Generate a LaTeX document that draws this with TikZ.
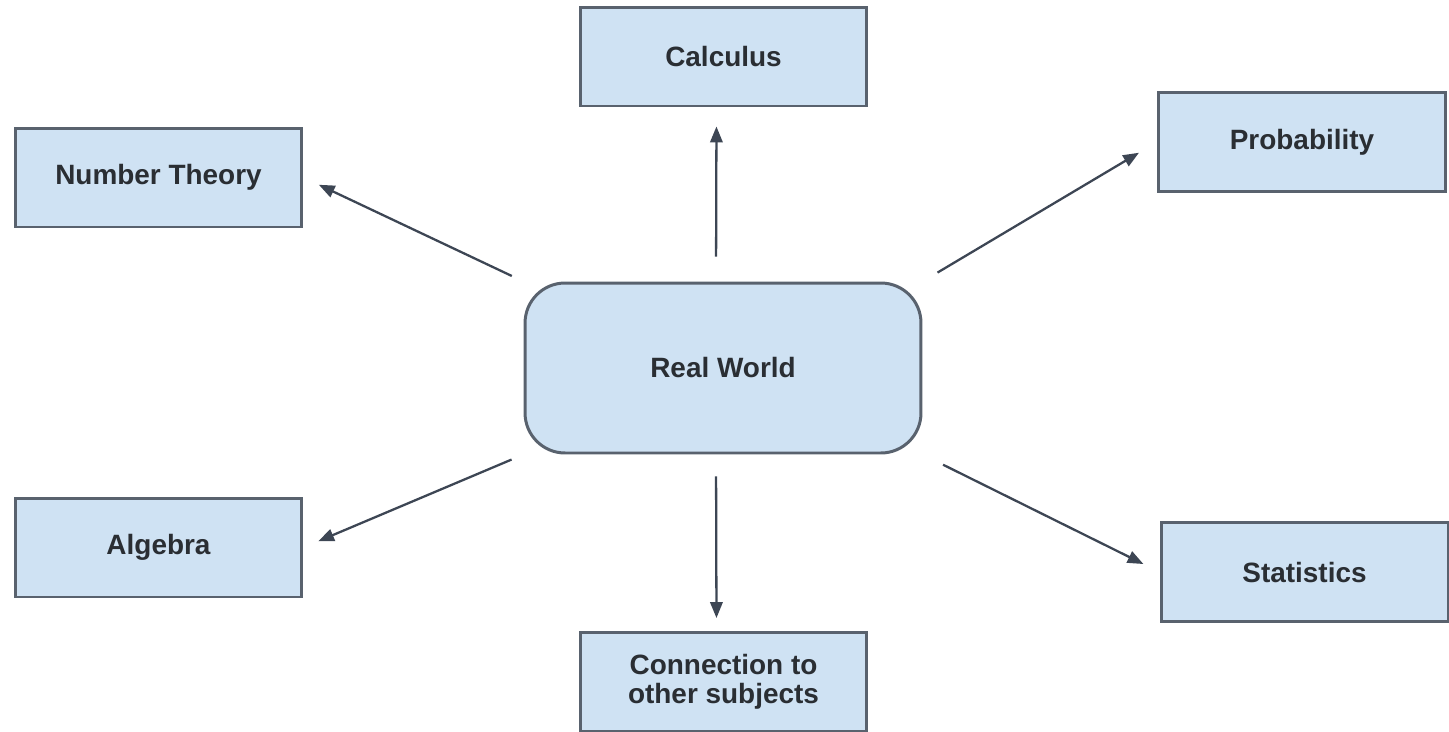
\documentclass[tikz,border=0pt]{standalone}
\usepackage{fontspec}
\setmainfont{Liberation Sans}
\usetikzlibrary{arrows.meta}
\definecolor{boxfill}{HTML}{CFE2F3}
\definecolor{boxline}{HTML}{59626E}
\definecolor{arrowcol}{HTML}{3D4654}
\definecolor{txt}{HTML}{2A2E33}
\tikzset{
  topic/.style={draw=boxline, line width=1.7pt, fill=boxfill, minimum width=5.74cm, minimum height=1.98cm, inner sep=0pt, text=txt, align=center, font=\bfseries\fontsize{15.9}{16.5}\selectfont},
  center/.style={topic, rounded corners=0.8cm, minimum width=7.92cm, minimum height=3.4cm},
  link/.style={draw=arrowcol, line width=1.3pt, -{Triangle[length=9pt,width=7pt]}}
}
\begin{document}
\begin{tikzpicture}[x=0.02cm,y=-0.02cm]
\useasboundingbox (0,0) rectangle (1449,731);
\node[center] (rw) at (723,368) {Real World};
\node[topic] (calc) at (723.5,56.5) {Calculus};
\node[topic] (nt) at (158.5,177.5) {Number Theory};
\node[topic] (prob) at (1302,142) {Probability};
\node[topic] (alg) at (158.5,547.5) {Algebra};
\node[topic] (stat) at (1304.5,572) {Statistics};
\node[topic] (conn) at (723.5,682) {Connection to\\other subjects};
\draw[link, shorten <=0.5cm, shorten >=0.38cm] ([xshift=-0.14cm]rw.north) -- ([xshift=-0.14cm]calc.south);
\draw[link, shorten <=0.44cm, shorten >=0.26cm] ([xshift=-0.14cm]rw.south) -- ([xshift=-0.14cm]conn.north);
\draw[link, shorten <=0.26cm, shorten >=0.34cm] (rw.north west) -- (nt.east);
\draw[link, shorten <=0.35cm, shorten >=0.42cm] (rw.north east) -- (prob.west);
\draw[link, shorten <=0.26cm, shorten >=0.32cm] (rw.south west) -- (alg.east);
\draw[link, shorten <=0.46cm, shorten >=0.36cm] (rw.south east) -- (stat.west);
\end{tikzpicture}
\end{document}
